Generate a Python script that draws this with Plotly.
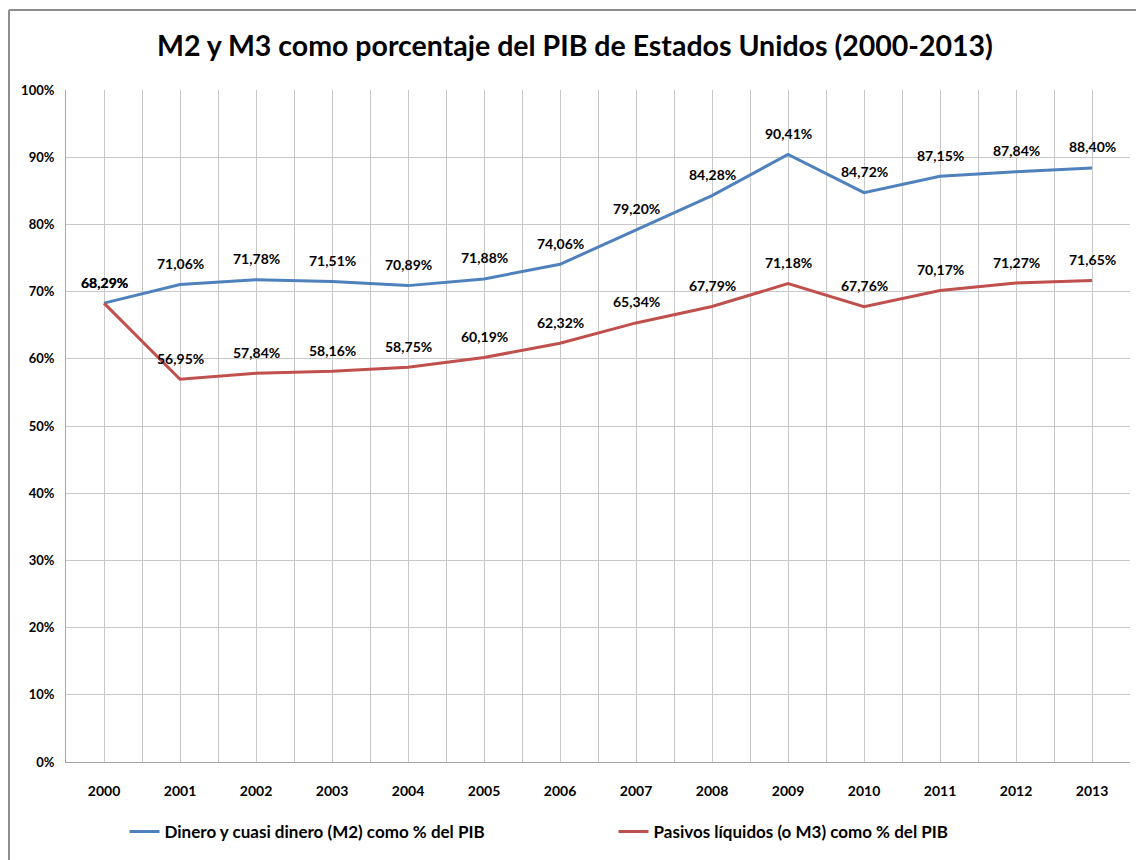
import plotly.graph_objects as go

years = list(range(2000, 2014))
m2 = [68.29, 71.06, 71.78, 71.51, 70.89, 71.88, 74.06, 79.20, 84.28, 90.41, 84.72, 87.15, 87.84, 88.40]
m3 = [68.29, 56.95, 57.84, 58.16, 58.75, 60.19, 62.32, 65.34, 67.79, 71.18, 67.76, 70.17, 71.27, 71.65]
name_m2 = "Dinero y cuasi dinero (M2) como % del PIB"
name_m3 = "Pasivos líquidos (o M3) como % del PIB"
title = "M2 y M3 como porcentaje del PIB de Estados Unidos (2000-2013)"
ytick_vals = list(range(0, 101, 10))

FONT = "Lato, Open Sans, sans-serif"
BLUE = "#4F81BD"
RED = "#C0504D"

def fmt(v):
    return f"{v:.2f}".replace(".", ",") + "%"

fig = go.Figure()
fig.add_trace(go.Scatter(x=years, y=m2, mode="lines", name=name_m2,
                         line=dict(color=BLUE, width=3)))
fig.add_trace(go.Scatter(x=years, y=m3, mode="lines", name=name_m3,
                         line=dict(color=RED, width=3)))

annotations = []
for series in (m2, m3):
    for x, v in zip(years, series):
        annotations.append(dict(x=x, y=v, xref="x", yref="y", text=fmt(v),
                                showarrow=False, yshift=21,
                                font=dict(family=FONT, size=14, color="#000000", weight="bold")))
annotations.append(dict(x=0.478, y=1.0, xref="paper", yref="paper", yanchor="middle",
                        yshift=45, text=title, showarrow=False,
                        font=dict(family=FONT, size=28.5, color="#000000", weight="bold")))

xtickvals = [y + d for y in range(1999, 2014) for d in (0.5, 1.0)][:-1]
xticktext = [(f"{int(v)}" if float(v).is_integer() else "") for v in xtickvals]

fig.update_layout(
    width=1136, height=852,
    margin=dict(l=58, r=14, t=82, b=98, autoexpand=False),
    paper_bgcolor="white", plot_bgcolor="white",
    font=dict(family=FONT, color="#000000", weight="bold"),
    annotations=annotations,
    showlegend=True,
    legend=dict(orientation="h", x=0.055, xanchor="left", y=-0.104, yanchor="middle",
                entrywidth=444, entrywidthmode="pixels",
                font=dict(family=FONT, size=17, color="#000000", weight="bold")),
    xaxis=dict(range=[1999.5, 2013.5], tickmode="array", tickvals=xtickvals,
               ticktext=xticktext, showgrid=True, gridcolor="#C8C8C8", gridwidth=1,
               ticks="", showline=True, linecolor="#A6A6A6", linewidth=1,
               tickfont=dict(family=FONT, size=14, color="#000000", weight="bold"),
               ticklabelstandoff=16, zeroline=False),
    yaxis=dict(range=[0, 100], tickmode="array", tickvals=ytick_vals,
               ticktext=[f"{v}%" for v in ytick_vals], showgrid=True,
               gridcolor="#C8C8C8", gridwidth=1, ticks="", showline=True,
               linecolor="#A6A6A6", linewidth=1, zeroline=False,
               tickfont=dict(family=FONT, size=13, color="#000000", weight="bold"),
               ticklabelstandoff=8),
    shapes=[
        dict(type="line", xref="paper", yref="paper", x0=-0.0536, x1=-0.0536,
             y0=-0.2, y1=1.119, line=dict(color="#8C8C8C", width=2)),
        dict(type="line", xref="paper", yref="paper", x0=-0.0536, x1=1.02,
             y0=1.119, y1=1.119, line=dict(color="#8C8C8C", width=2)),
    ],
)

fig.write_html("out.html")
